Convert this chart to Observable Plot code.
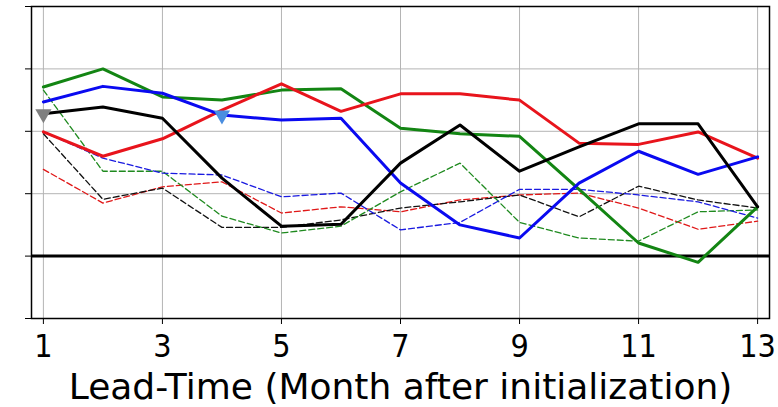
<!DOCTYPE html>
<html><head><meta charset="utf-8">
<script src="https://cdn.jsdelivr.net/npm/d3@7"></script>
<script src="https://cdn.jsdelivr.net/npm/@observablehq/plot@0.6"></script>
<style>
body{margin:0;background:#fff}
#chart svg{display:block;font-family:"DejaVu Sans",sans-serif;color:#000}
#chart g[aria-label="x-axis tick label"] text{font-family:"DejaVu Sans Condensed","DejaVu Sans",sans-serif;font-size:32px}
#chart g[aria-label="x-axis label"] text{font-size:36px}
</style></head><body><div id="chart"></div>
<script>
const months = [1,2,3,4,5,6,7,8,9,10,11,12,13];
const xTicks = [1,3,5,7,9,11,13];
const yTicks = [-0.1,0,0.1,0.2,0.3,0.4];
const xLabel = "Lead-Time (Month after initialization)";

// solid lines
const greenSolid = [0.271,0.300,0.255,0.250,0.266,0.268,0.205,0.196,0.192,0.107,0.021,-0.010,0.079];
const blueSolid  = [0.247,0.272,0.261,0.226,0.218,0.221,0.117,0.050,0.029,0.117,0.168,0.131,0.159];
const redSolid   = [0.199,0.160,0.188,0.234,0.276,0.232,0.260,0.260,0.250,0.181,0.179,0.199,0.157];
const blackSolid = [0.228,0.239,0.221,0.125,0.048,0.051,0.149,0.210,0.136,0.175,0.212,0.212,0.079];
// dashed lines
const greenDashed = [0.266,0.136,0.136,0.064,0.037,0.048,0.103,0.149,0.054,0.029,0.024,0.071,0.074];
const blueDashed  = [0.199,0.157,0.133,0.130,0.095,0.101,0.042,0.054,0.107,0.107,0.098,0.087,0.061];
const redDashed   = [0.139,0.085,0.111,0.119,0.069,0.079,0.071,0.090,0.098,0.101,0.077,0.043,0.056];
const blackDashed = [0.196,0.091,0.109,0.046,0.046,0.058,0.077,0.087,0.098,0.063,0.112,0.090,0.077];

// marker positions (month on a given series)
const greyMarkerMonths = [1];   // on blackSolid
const blueMarkerMonths = [4];   // on blueSolid

const toRows = (vals) => months.map((m, i) => ({m, v: vals[i]}));

const dashedStyle = [
  [redDashed, "#e01818"],
  [blackDashed, "#111111"],
  [greenDashed, "#1f8a1f"],
  [blueDashed, "#1a1ae0"]
];
const solidStyle = [
  [greenSolid, "#138513"],
  [redSolid, "#e8141c"],
  [blueSolid, "#0a0af0"],
  [blackSolid, "#000000"]
];

const marks = [
  Plot.gridX(xTicks, {stroke: "#b4b4b4", strokeOpacity: 1, strokeWidth: 1}),
  Plot.gridY(yTicks, {stroke: "#b4b4b4", strokeOpacity: 1, strokeWidth: 1}),
  ...dashedStyle.map(([vals, c]) => Plot.line(toRows(vals), {x: "m", y: "v", stroke: c, strokeWidth: 1.3, strokeDasharray: "6,3"})),
  Plot.ruleY([0], {stroke: "#000", strokeWidth: 3}),
  ...solidStyle.map(([vals, c]) => Plot.line(toRows(vals), {x: "m", y: "v", stroke: c, strokeWidth: 3})),
  Plot.dot(greyMarkerMonths.map(m => ({m, v: blackSolid[months.indexOf(m)]})), {x: "m", y: "v", symbol: "triangle", rotate: 180, r: 6, fill: "#7f7f7f", stroke: "none"}),
  Plot.dot(blueMarkerMonths.map(m => ({m, v: blueSolid[months.indexOf(m)]})), {x: "m", y: "v", symbol: "triangle", rotate: 180, r: 6, fill: "#4a8ee0", stroke: "none"}),
  Plot.frame({stroke: "#000", strokeWidth: 1.5}),
  Plot.axisX(xTicks, {tickSize: 6, tickPadding: 10, fontSize: 32, tickFormat: d => String(d), label: xLabel, labelAnchor: "center", labelArrow: "none", labelOffset: 80}),
  Plot.axisY(yTicks, {tickSize: 6, tickFormat: () => "", label: null})
];

const chart = Plot.plot({
  width: 778,
  height: 407,
  marginLeft: 31,
  marginTop: 6,
  marginRight: 9,
  marginBottom: 89,
  x: {domain: [0.8, 13.2]},
  y: {domain: [-0.1, 0.4]},
  style: {fontFamily: "DejaVu Sans, sans-serif", color: "#000", background: "#fff"},
  marks
});
document.getElementById("chart").appendChild(chart);
</script></body></html>
